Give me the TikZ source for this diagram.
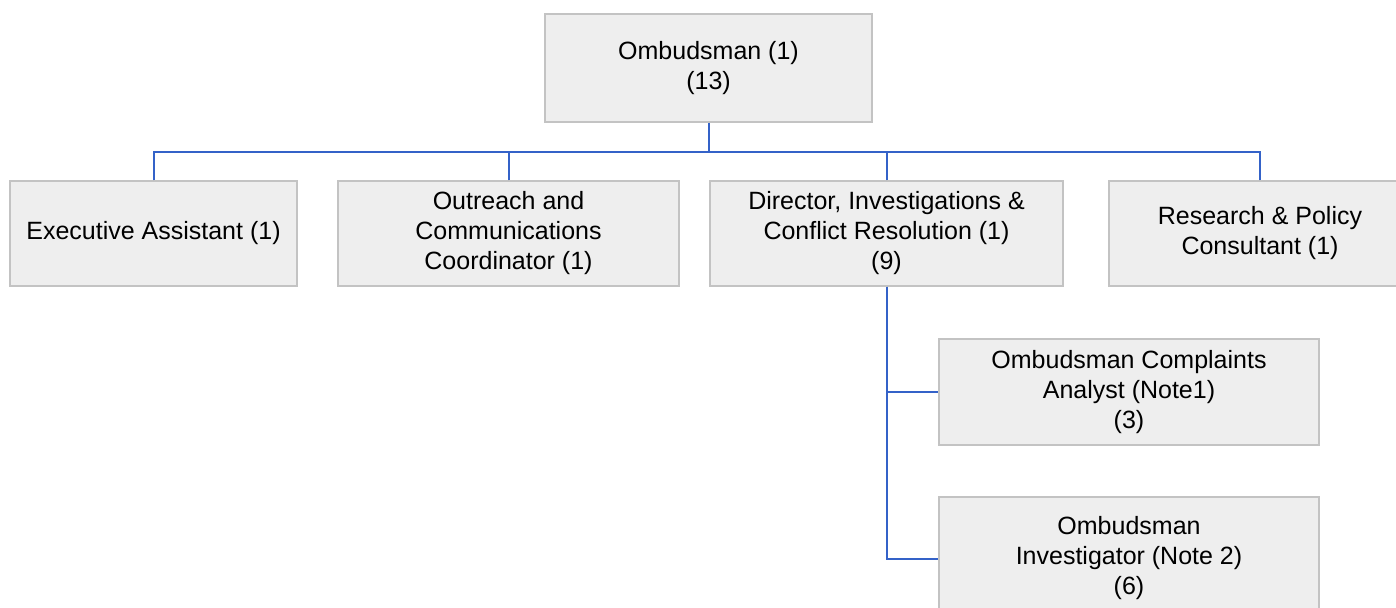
\documentclass[tikz,border=0pt]{standalone}
\usepackage{fontspec}
\setmainfont{Liberation Sans}
\definecolor{boxfill}{RGB}{238,238,238}
\definecolor{boxline}{RGB}{195,195,195}
\definecolor{linkblue}{RGB}{52,98,200}
\begin{document}
\begin{tikzpicture}[x=0.5pt,y=-0.5pt,
  orgbox/.style={draw=boxline, fill=boxfill, line width=0.6pt, inner sep=0pt,
    align=center, font=\fontsize{12.5}{15}\selectfont},
  link/.style={draw=linkblue, line width=1pt}]
\useasboundingbox (0,0) rectangle (1396,607);
\node[orgbox, minimum width=163.5pt, minimum height=54pt] (top) at (708.5,68) {Ombudsman (1)\\(13)};
\node[orgbox, minimum width=143.5pt, minimum height=52.5pt] (exec) at (153.5,233.5) {Executive Assistant (1)};
\node[orgbox, minimum width=170.5pt, minimum height=52.5pt] (outr) at (508.5,233.5) {Outreach and\\Communications\\Coordinator (1)};
\node[orgbox, minimum width=176.5pt, minimum height=52.5pt] (dir) at (886.5,233.5) {Director, Investigations \&\\Conflict Resolution (1)\\(9)};
\node[orgbox, minimum width=151pt, minimum height=52.5pt] (res) at (1260,233.5) {Research \& Policy\\Consultant (1)};
\node[orgbox, minimum width=190pt, minimum height=53pt] (comp) at (1129,392) {Ombudsman Complaints\\Analyst (Note1)\\(3)};
\node[orgbox, minimum width=190pt, minimum height=61.5pt] (inv) at (1129,558.5) {Ombudsman\\Investigator (Note 2)\\(6)};
\coordinate (bus) at (708.5,152);
\draw[link] (top.south) -- (bus);
\draw[link] (exec.north) |- (bus);
\draw[link] (outr.north) |- (bus);
\draw[link] (dir.north) |- (bus);
\draw[link] (res.north) |- (bus);
\draw[link] (dir.south) |- (comp.west);
\draw[link] (dir.south) |- (inv.west);
\end{tikzpicture}
\end{document}
